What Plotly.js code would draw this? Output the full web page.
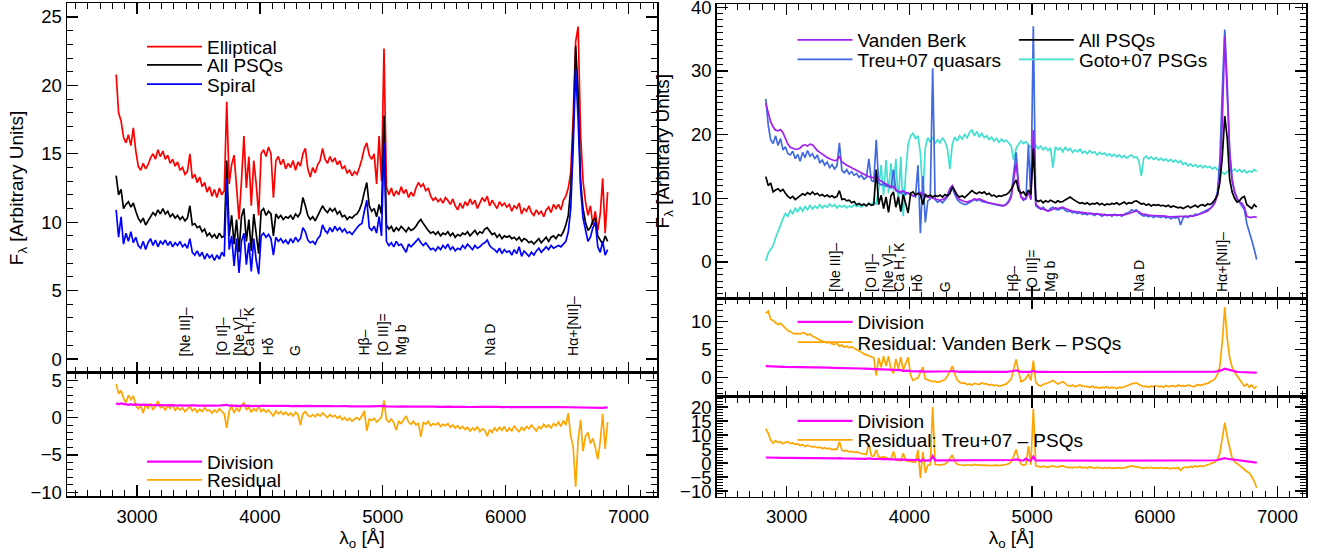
<!DOCTYPE html>
<html><head><meta charset="utf-8">
<script src="https://cdn.plot.ly/plotly-3.0.1.min.js"></script>
<style>html,body{margin:0;padding:0;background:#fff}#chart{width:1318px;height:552px}</style>
</head><body><div id="chart"></div>
<script>
// Wavelength grid (Å)
const wave = [
2830,2850,2870,2890,2910,2930,2950,2970,2990,3010,
3030,3050,3070,3090,3110,3130,3150,3170,3190,3210,
3230,3250,3270,3290,3310,3330,3350,3370,3390,3410,
3430,3450,3470,3490,3510,3530,3550,3570,3590,3610,
3630,3650,3670,3690,3710,3730,3750,3770,3790,3810,
3830,3850,3870,3890,3910,3930,3950,3970,3990,4010,
4030,4050,4070,4090,4110,4130,4150,4170,4190,4210,
4230,4250,4270,4290,4310,4330,4350,4370,4390,4410,
4430,4450,4470,4490,4510,4530,4550,4570,4590,4610,
4630,4650,4670,4690,4710,4730,4750,4770,4790,4810,
4830,4850,4870,4890,4910,4930,4950,4970,4990,5010,
5030,5050,5070,5090,5110,5130,5150,5170,5190,5210,
5230,5250,5270,5290,5310,5330,5350,5370,5390,5410,
5430,5450,5470,5490,5510,5530,5550,5570,5590,5610,
5630,5650,5670,5690,5710,5730,5750,5770,5790,5810,
5830,5850,5870,5890,5910,5930,5950,5970,5990,6010,
6030,6050,6070,6090,6110,6130,6150,6170,6190,6210,
6230,6250,6270,6290,6310,6330,6350,6370,6390,6410,
6430,6450,6470,6490,6510,6530,6550,6570,6590,6610,
6630,6650,6670,6690,6710,6730,6750,6770,6790,6810,6830];

const elliptical = [
20.8,18.0,17.4,16.2,15.8,16.4,15.6,16.9,15.2,14.1,
13.8,14.3,13.9,14.2,14.7,15.0,14.6,15.3,14.8,15.2,
14.6,14.9,14.3,14.6,14.1,14.4,13.8,14.0,13.5,13.7,
15.0,13.2,13.5,12.9,13.3,12.6,12.9,12.2,12.6,11.9,
12.4,11.8,12.5,12.0,12.3,18.8,12.8,14.2,14.9,12.2,
10.2,13.0,16.3,12.5,14.8,11.2,14.5,12.8,10.5,15.0,
15.3,14.8,15.5,15.0,11.8,14.5,14.8,14.2,14.6,13.9,
14.3,14.0,14.5,13.8,14.4,14.1,15.0,15.4,13.9,13.3,
14.0,13.6,14.2,14.5,15.4,14.6,14.3,14.8,14.4,14.7,
14.2,14.5,13.9,14.1,13.6,13.8,13.4,13.7,13.5,14.0,
14.6,15.4,15.8,14.9,14.6,15.0,12.8,16.3,13.0,22.7,
12.6,12.0,12.5,11.9,12.3,12.0,12.6,12.1,12.4,11.8,
12.2,11.9,12.5,12.9,12.6,12.8,12.3,12.5,11.9,11.6,
11.8,11.5,11.7,11.4,11.8,11.6,11.3,11.7,11.2,10.9,
11.4,11.0,11.5,11.2,11.7,11.3,11.6,11.0,11.4,11.8,
11.5,11.9,11.2,11.6,11.3,11.0,11.5,11.2,11.4,11.1,
11.3,10.8,11.2,11.0,11.4,10.6,11.0,10.8,11.2,10.7,
10.5,10.9,10.6,10.8,10.4,10.9,11.1,10.7,11.3,11.0,
11.3,10.9,11.6,11.9,12.5,13.6,17.8,23.2,24.3,16.5,
13.0,11.5,10.5,11.2,9.8,10.8,9.4,10.6,13.2,9.2,12.2];

const allPSQs = [
13.4,12.0,12.4,11.0,11.3,11.5,11.1,11.4,10.8,10.3,
10.0,10.3,9.8,10.1,10.4,10.7,10.5,10.9,10.6,11.0,
10.6,10.8,10.4,10.6,10.3,10.5,10.2,10.4,10.1,10.3,
11.2,9.8,9.9,9.6,9.7,9.3,9.5,9.0,9.2,8.9,
9.1,8.8,9.2,8.9,9.0,14.5,9.0,10.5,8.4,10.2,
7.8,10.4,11.0,8.6,10.2,7.9,10.6,8.9,7.7,10.8,
11.0,10.5,10.8,10.6,9.0,10.6,10.3,10.5,10.2,10.4,
10.3,10.5,10.2,10.6,10.4,10.7,11.8,11.2,10.5,10.2,
10.4,10.1,10.5,10.8,11.2,10.9,10.7,11.0,10.8,11.0,
10.6,10.8,10.4,10.5,10.2,10.4,10.3,10.5,10.6,10.9,
11.4,12.2,12.9,11.2,10.8,11.0,10.4,11.3,10.6,17.8,
9.8,9.5,9.7,9.3,9.6,9.4,9.7,9.5,9.3,9.6,
9.4,9.5,9.7,10.0,10.2,9.9,9.6,9.4,9.2,9.3,
9.1,9.3,9.0,9.2,9.1,9.3,9.0,9.2,8.9,9.1,
9.0,9.2,9.1,9.3,9.0,9.2,9.4,9.1,9.3,9.2,
9.5,9.6,9.3,9.1,9.2,8.9,9.1,8.8,9.0,8.9,
9.0,8.8,8.9,8.7,8.9,8.6,8.8,8.7,8.5,8.6,
8.4,8.6,8.8,8.5,8.7,8.9,8.6,8.9,9.0,8.8,
9.1,9.0,9.3,9.8,10.5,12.5,16.5,22.9,19.5,13.0,
11.0,10.0,9.4,9.6,10.1,10.3,9.0,8.7,8.4,9.0,8.6];

const spiral = [
10.9,8.9,10.4,8.4,9.2,8.6,9.3,8.5,8.9,8.3,
8.1,8.6,8.0,8.5,8.8,8.3,8.7,8.2,8.6,8.4,
8.7,8.3,8.6,8.2,8.5,8.3,8.6,8.2,8.4,8.1,
8.8,7.8,7.6,7.9,7.5,7.8,7.3,7.7,7.4,7.6,
7.2,7.6,7.3,7.8,7.5,13.2,8.0,9.0,6.8,8.8,
6.3,8.6,9.2,6.9,8.5,6.4,8.8,7.2,6.2,9.0,
9.2,8.9,9.1,8.8,7.6,8.9,8.6,8.8,8.5,8.7,
8.4,8.8,8.5,8.9,8.6,8.8,9.6,9.3,8.7,8.5,
8.6,8.4,8.8,9.0,9.8,9.4,9.2,9.6,9.3,9.7,
9.4,9.6,9.3,9.5,9.2,9.3,9.1,9.4,9.6,9.8,
9.9,10.8,11.6,9.6,9.4,9.7,9.2,10.4,9.0,15.8,
8.6,8.3,8.5,8.2,8.6,8.3,8.4,8.1,7.8,8.4,
8.2,8.4,8.6,8.8,8.5,8.3,8.5,8.2,8.0,8.1,
7.9,8.2,8.0,8.3,8.1,8.4,8.0,8.2,7.9,8.1,
8.0,8.3,8.1,8.4,8.2,8.0,8.3,8.1,8.2,8.4,
8.5,8.7,8.3,8.1,8.0,7.8,8.1,7.7,8.0,7.8,
7.9,7.6,8.0,7.7,8.2,7.5,7.9,7.7,7.5,7.8,
7.6,7.9,8.1,7.8,8.0,8.2,8.0,8.3,8.1,8.2,
8.3,8.2,8.4,8.6,9.3,11.0,15.5,21.2,17.5,12.5,
10.3,9.4,8.6,8.9,9.6,10.0,8.2,7.8,8.6,7.6,8.0];

const divisionGal = [
1.9,1.8,1.9,1.8,1.8,1.7,1.8,1.7,1.75,1.7,
1.7,1.72,1.66,1.7,1.68,1.65,1.7,1.64,1.68,1.63,
1.67,1.62,1.66,1.63,1.65,1.61,1.64,1.6,1.63,1.6,
1.64,1.59,1.62,1.6,1.63,1.58,1.61,1.59,1.62,1.58,
1.61,1.58,1.6,1.57,1.6,1.7,1.58,1.62,1.55,1.6,
1.52,1.6,1.62,1.55,1.6,1.54,1.59,1.56,1.52,1.6,
1.6,1.57,1.59,1.56,1.55,1.58,1.55,1.57,1.54,1.56,
1.55,1.53,1.56,1.54,1.55,1.53,1.56,1.54,1.52,1.55,
1.53,1.54,1.52,1.55,1.53,1.51,1.54,1.52,1.53,1.51,
1.53,1.51,1.52,1.5,1.52,1.5,1.51,1.49,1.51,1.5,
1.5,1.52,1.48,1.5,1.49,1.51,1.48,1.52,1.49,1.55,
1.49,1.47,1.49,1.46,1.48,1.47,1.49,1.46,1.48,1.47,
1.46,1.48,1.45,1.47,1.44,1.46,1.45,1.47,1.44,1.46,
1.45,1.43,1.45,1.44,1.46,1.43,1.45,1.42,1.44,1.43,
1.44,1.42,1.44,1.41,1.43,1.42,1.44,1.41,1.43,1.42,
1.43,1.41,1.42,1.4,1.42,1.41,1.43,1.4,1.42,1.41,
1.42,1.4,1.41,1.39,1.41,1.4,1.42,1.39,1.41,1.4,
1.39,1.41,1.38,1.4,1.39,1.41,1.38,1.4,1.39,1.41,
1.4,1.38,1.41,1.39,1.4,1.42,1.38,1.35,1.3,1.33,
1.3,1.28,1.3,1.26,1.29,1.25,1.22,1.28,1.3,1.33,1.35];

const residualGal = [
4.5,3.2,3.6,2.6,2.0,3.0,2.4,2.9,1.6,1.2,
1.5,0.6,1.8,1.2,1.9,1.0,1.6,2.2,1.3,1.5,
1.0,1.6,1.2,1.8,0.9,1.4,1.0,1.3,0.8,1.2,
1.5,0.9,1.2,0.7,1.1,0.8,1.3,0.9,1.0,0.6,
1.0,0.7,1.2,0.8,0.5,-1.4,0.9,1.5,0.6,1.3,
0.8,1.6,2.0,1.0,1.4,0.7,1.2,0.9,1.5,0.8,
1.1,0.7,1.0,0.6,0.2,0.9,0.5,0.8,0.4,0.7,
0.3,0.6,0.2,0.7,0.4,-1.0,0.5,0.8,0.3,0.1,
0.4,0.1,0.5,0.2,0.6,0.3,0.0,0.4,0.1,0.3,
-0.1,0.2,-0.3,0.0,-0.4,-0.1,-0.5,-0.2,0.0,-0.3,
0.2,0.9,-1.8,-0.2,-0.4,-0.1,-0.6,-0.3,0.1,2.3,
-0.3,-0.6,-0.2,-0.7,-1.7,-0.5,-0.8,-0.3,0.2,-0.6,
-0.9,-0.5,-1.0,-0.7,-2.6,-0.6,-0.9,-0.5,-1.1,-0.8,
-1.0,-0.7,-1.2,-0.9,-1.1,-0.8,-1.3,-1.0,-1.4,-1.1,
-1.5,-1.2,-1.6,-1.3,-1.8,-1.4,-1.7,-1.2,-1.9,-1.5,
-1.7,-2.5,-1.6,-2.0,-1.4,-1.8,-1.3,-1.7,-1.2,-1.9,
-1.4,-1.8,-1.1,-1.6,-1.9,-1.3,-1.7,-1.2,-1.5,-1.0,
-1.4,-1.8,-1.2,-1.5,-0.9,-1.3,-1.0,-1.4,-0.8,-1.1,
-0.6,-1.2,-0.4,-1.0,0.6,-2.5,-4.0,-9.3,-3.0,-0.3,
-4.5,-2.5,-2.0,-3.5,-2.8,-4.0,-5.6,-3.2,0.5,-4.2,-0.6];

const vandenBerk = [
24.9,23.3,22.0,21.2,20.7,20.6,20.8,20.3,19.3,18.5,
18.0,17.8,17.7,17.7,17.9,18.3,18.4,18.2,18.5,18.4,
17.9,17.5,17.2,16.9,16.7,16.4,16.2,16.0,15.9,16.0,
16.6,15.7,15.4,15.2,15.0,14.8,14.6,14.4,14.1,13.9,
13.7,13.5,13.4,13.3,13.2,13.5,12.9,12.7,12.5,12.2,
12.0,11.7,11.9,11.3,11.1,11.0,11.2,10.9,10.8,10.6,
10.4,10.5,10.7,10.9,10.6,10.3,10.2,10.1,10.0,9.9,
9.7,9.7,9.8,10.0,10.5,11.5,12.0,11.0,10.2,9.8,
9.6,9.5,9.4,9.5,9.7,9.9,9.8,9.9,9.7,9.5,
9.4,9.3,9.2,9.1,9.0,8.9,8.8,8.8,9.0,9.4,
10.2,13.0,15.5,12.0,10.2,9.7,10.0,10.9,9.8,20.7,
9.1,8.7,8.4,8.3,8.1,8.0,8.1,8.3,8.5,8.4,
8.5,8.6,8.4,8.2,8.1,8.0,7.9,7.9,7.8,7.8,
7.7,7.7,7.6,7.6,7.5,7.5,7.5,7.4,7.4,7.4,
7.4,7.3,7.3,7.3,7.3,7.4,7.4,7.5,7.6,7.8,
7.9,8.0,7.9,7.6,7.5,7.4,7.4,7.3,7.3,7.3,
7.3,7.2,7.2,7.2,7.1,7.1,7.1,7.1,7.1,7.1,
7.1,7.1,7.1,7.2,7.2,7.3,7.4,7.5,7.6,7.8,
8.0,8.3,8.7,9.3,10.5,13.5,22.0,35.4,26.0,17.5,
12.8,11.0,10.0,9.4,9.2,8.6,7.2,7.0,7.0,7.1,7.0];

const treuQuasars = [
25.6,21.5,19.2,18.6,19.8,18.3,19.4,17.6,18.1,17.0,
16.8,17.4,16.2,16.9,15.8,17.2,16.4,17.5,16.6,17.0,
16.2,16.8,15.6,16.0,15.2,15.7,14.8,15.3,14.6,15.1,
18.7,14.4,14.0,14.5,13.8,14.2,13.6,13.9,13.3,13.6,
13.0,13.3,16.2,12.8,12.6,19.2,12.4,12.1,12.3,11.9,
12.0,11.6,14.5,11.2,11.0,10.8,11.1,10.6,10.9,10.5,
10.4,10.2,15.2,4.5,13.5,6.2,9.6,9.9,30.4,9.8,
9.4,9.6,9.3,9.7,10.2,11.0,11.6,10.6,9.8,9.4,
9.2,9.0,9.1,9.3,9.6,9.8,9.6,9.8,9.5,9.4,
9.3,9.2,9.1,9.0,8.9,8.9,8.8,8.9,9.1,9.6,
10.5,14.0,17.2,12.0,10.2,10.0,9.9,18.4,9.8,37.0,
8.8,8.5,8.3,8.6,8.2,8.0,8.4,8.6,8.3,8.2,
8.4,8.5,8.1,7.9,8.0,7.7,7.8,7.6,7.8,7.5,
7.6,7.4,7.7,7.5,7.3,7.6,7.4,7.2,7.5,7.3,
7.4,7.2,7.5,7.3,7.4,7.2,7.5,7.6,7.8,8.2,
8.0,8.2,7.7,7.4,7.2,7.3,7.1,7.3,7.0,7.2,
7.1,7.0,7.2,6.9,7.1,6.8,7.0,6.9,7.1,5.8,
6.9,7.2,7.0,7.3,7.2,7.5,7.4,7.6,7.8,7.9,
8.1,8.4,8.8,9.6,11.0,16.0,27.0,36.5,28.0,17.0,
13.0,11.0,10.0,9.4,8.9,8.2,6.0,4.5,3.4,2.0,0.4];

const gotoPSGs = [
0.2,1.4,2.0,2.6,3.8,4.8,6.0,6.8,7.6,7.2,
8.1,7.6,8.4,7.9,8.6,8.0,8.7,8.2,8.9,8.3,
8.8,8.4,9.0,8.5,8.9,8.6,9.1,8.7,9.0,8.5,
8.9,8.6,8.9,8.5,8.8,8.6,9.0,8.7,8.9,8.6,
9.0,8.8,9.2,9.0,9.4,9.1,11.5,15.2,10.5,16.0,
10.8,15.5,11.2,16.2,9.0,16.5,7.2,14.0,18.5,19.8,
20.2,19.4,19.8,17.0,10.5,18.0,19.5,18.8,19.6,18.6,
19.2,18.7,19.5,18.9,17.8,14.6,18.5,19.6,19.0,19.8,
19.3,20.0,19.5,20.3,20.8,19.8,20.5,19.6,20.2,19.5,
19.8,19.2,19.6,19.0,19.4,18.8,19.3,18.9,19.1,18.7,
18.2,16.0,17.8,18.5,19.0,18.6,18.9,18.4,18.0,17.6,
18.3,17.8,18.2,17.6,18.0,17.5,17.9,14.8,18.1,17.6,
17.9,17.3,18.0,17.5,17.8,17.2,17.6,17.3,17.7,17.1,
17.4,17.0,17.5,17.1,17.3,16.8,17.2,16.9,17.1,16.7,
17.0,16.6,16.9,16.5,16.8,16.4,16.7,16.3,16.6,16.8,
16.4,16.5,15.9,13.5,16.3,16.6,16.2,16.5,16.1,16.4,
16.0,16.3,15.9,16.2,15.8,16.1,15.7,16.0,15.6,15.9,
15.3,15.6,15.1,15.4,15.0,15.3,14.9,15.2,14.8,15.1,
14.8,15.0,14.6,14.9,14.5,14.3,14.0,13.8,14.2,14.5,
14.3,14.6,14.2,14.5,14.1,14.4,14.0,14.3,14.1,14.5,14.2];

const divisionVB = [
2.0,2.0,1.95,1.95,1.9,1.9,1.9,1.88,1.85,1.85,
1.85,1.83,1.82,1.82,1.8,1.8,1.79,1.78,1.78,1.77,
1.76,1.76,1.75,1.74,1.73,1.72,1.72,1.7,1.7,1.69,
1.7,1.67,1.66,1.65,1.64,1.63,1.62,1.6,1.59,1.57,
1.56,1.54,1.53,1.51,1.5,1.5,1.46,1.4,1.45,1.36,
1.4,1.3,1.25,1.32,1.2,1.28,1.15,1.18,1.2,1.08,
1.05,1.05,1.06,1.1,1.12,1.02,1.0,1.0,0.99,0.99,
0.98,0.98,0.98,0.99,1.02,1.08,1.12,1.05,1.0,0.97,
1.02,1.01,1.0,1.0,1.0,1.01,1.0,1.0,0.99,0.99,
0.99,0.98,0.98,0.98,0.97,0.97,0.97,0.97,0.98,0.99,
1.0,1.12,1.25,1.05,0.98,0.97,0.98,1.0,0.97,1.15,
0.97,0.97,0.96,0.96,0.96,0.96,0.96,0.96,0.96,0.96,
0.96,0.96,0.95,0.95,0.95,0.95,0.94,0.94,0.94,0.94,
0.94,0.94,0.93,0.93,0.93,0.93,0.93,0.93,0.92,0.92,
0.92,0.92,0.92,0.92,0.92,0.92,0.92,0.93,0.93,0.94,
0.95,0.95,0.94,0.93,0.92,0.92,0.92,0.92,0.91,0.91,
0.91,0.91,0.91,0.91,0.9,0.9,0.9,0.9,0.9,0.9,
0.9,0.9,0.9,0.9,0.91,0.91,0.92,0.92,0.93,0.93,
0.94,0.95,0.97,1.0,1.05,1.15,1.32,1.55,1.42,1.25,
1.12,1.04,0.98,0.94,0.9,0.87,0.84,0.82,0.83,0.82,0.83];

const residualVB = [
11.5,11.9,10.4,10.2,9.8,9.5,9.7,9.3,8.9,8.4,
8.2,7.9,7.8,7.9,7.8,8.0,7.9,7.6,7.8,7.4,
7.2,6.9,6.7,6.5,6.4,6.2,6.3,6.0,5.9,6.1,
5.6,5.8,5.4,5.6,5.3,5.5,5.2,5.0,4.7,4.5,
4.2,4.0,3.8,3.7,3.5,0.3,3.5,1.8,3.8,2.0,
3.8,1.4,0.7,3.3,1.5,3.6,1.3,2.5,3.6,0.4,
-0.6,-0.3,-0.1,0.9,1.8,-0.3,-0.5,-0.6,-0.8,-0.7,
-0.9,-0.8,-0.6,-0.4,0.2,1.2,2.0,0.6,-0.5,-0.9,
-1.1,-1.0,-1.3,-1.2,-1.4,-1.1,-1.2,-1.3,-1.0,-1.2,
-1.2,-1.4,-1.3,-1.5,-1.4,-1.6,-1.5,-1.3,-1.2,-0.8,
-0.3,1.5,3.2,1.0,-0.8,-0.6,-0.2,0.6,-0.6,3.0,
-0.9,-1.4,-1.6,-1.3,-1.2,-1.0,-0.8,-0.6,-0.9,-1.2,
-1.0,-0.8,-1.1,-1.5,-1.6,-1.4,-1.7,-1.5,-1.4,-1.6,
-1.6,-1.7,-1.8,-1.6,-1.9,-1.8,-2.0,-1.8,-1.9,-1.7,
-2.0,-1.8,-1.9,-2.0,-1.8,-1.9,-1.7,-1.6,-1.4,-1.2,
-1.1,-1.0,-1.3,-1.5,-1.7,-1.6,-1.8,-1.6,-1.7,-1.5,
-1.7,-1.6,-1.8,-1.5,-1.7,-1.6,-1.5,-1.7,-1.4,-1.6,
-1.5,-1.6,-1.4,-1.5,-1.7,-1.6,-1.3,-1.5,-1.3,-1.2,
-1.1,-0.9,-0.6,-0.3,0.5,2.0,6.5,12.6,7.0,3.5,
1.8,0.9,0.2,-0.5,-1.0,-1.6,-1.2,-1.8,-1.4,-2.0,-1.6];

const divisionTreu = [
2.0,1.95,1.9,1.88,1.92,1.87,1.9,1.85,1.87,1.84,
1.83,1.85,1.8,1.82,1.78,1.81,1.77,1.8,1.76,1.78,
1.75,1.77,1.73,1.74,1.71,1.72,1.69,1.71,1.67,1.69,
1.8,1.65,1.63,1.64,1.6,1.62,1.58,1.59,1.56,1.56,
1.53,1.52,1.7,1.48,1.46,1.55,1.42,1.4,1.42,1.38,
1.35,1.32,1.4,1.28,1.25,1.22,1.3,1.18,1.16,1.12,
1.1,1.08,1.3,0.7,1.25,0.8,1.0,1.0,2.5,1.0,
0.98,0.98,0.98,0.99,1.0,1.05,1.1,1.03,0.98,0.97,
0.96,0.95,0.96,0.95,0.95,0.96,0.95,0.95,0.94,0.94,
0.94,0.93,0.93,0.93,0.93,0.92,0.92,0.92,0.93,0.95,
0.98,1.1,1.3,1.05,0.95,0.93,1.6,0.96,0.93,2.3,
0.92,0.92,0.91,0.92,0.91,0.9,0.91,0.92,0.91,0.9,
0.91,0.91,0.9,0.9,0.9,0.89,0.89,0.89,0.89,0.88,
0.88,0.88,0.88,0.88,0.87,0.88,0.87,0.87,0.87,0.87,
0.87,0.87,0.87,0.87,0.87,0.87,0.87,0.88,0.89,0.9,
0.9,0.9,0.89,0.88,0.87,0.87,0.86,0.86,0.86,0.86,
0.86,0.86,0.86,0.86,0.86,0.85,0.86,0.85,0.86,0.8,
0.86,0.87,0.87,0.88,0.88,0.89,0.9,0.9,0.91,0.92,
0.93,0.95,0.98,1.02,1.1,1.25,1.5,1.75,1.55,1.45,
1.3,1.2,1.12,1.05,0.98,0.9,0.75,0.6,0.45,0.3,0.15];

const residualTreu = [
12.3,10.6,8.2,7.1,8.0,7.3,7.6,6.9,7.4,7.6,
7.0,7.2,6.6,6.9,6.3,6.6,5.9,6.4,6.0,5.8,
5.9,5.5,5.7,5.2,5.5,5.1,5.3,4.8,5.0,4.9,
7.6,4.6,4.3,4.5,4.0,4.2,3.8,4.0,3.6,3.5,
3.3,3.1,7.0,2.6,2.4,4.7,2.2,2.0,2.3,1.8,
1.6,1.4,4.1,1.2,1.0,0.8,3.5,0.9,0.7,0.6,
0.5,0.3,4.7,-5.3,4.0,-3.5,-0.8,-0.6,20.0,-0.5,
-0.6,-0.7,-0.5,-0.4,0.4,1.8,2.9,0.6,-0.4,-0.6,
-0.7,-0.8,-0.6,-0.7,-0.8,-0.5,-0.7,-0.6,-0.8,-0.7,
-0.8,-0.7,-0.9,-0.8,-0.7,-0.9,-0.8,-0.7,-0.5,-0.2,
0.5,2.5,4.9,1.2,-0.4,-0.8,-0.5,6.1,-0.6,19.4,
-1.0,-1.2,-1.4,-1.1,-1.3,-1.5,-1.2,-1.0,-1.3,-1.4,
-1.1,-1.0,-1.3,-1.6,-1.5,-1.7,-1.4,-1.6,-1.3,-1.7,
-1.5,-1.8,-1.4,-1.6,-1.8,-1.5,-1.7,-1.9,-1.6,-1.8,
-1.6,-1.9,-1.7,-1.8,-1.6,-1.9,-1.7,-1.4,-1.3,-1.0,
-1.2,-1.4,-1.6,-1.7,-1.9,-1.6,-1.8,-1.5,-1.9,-1.7,
-1.8,-1.6,-1.9,-1.7,-1.8,-2.0,-1.7,-1.9,-1.6,-2.6,
-1.7,-1.4,-1.6,-1.2,-1.5,-1.0,-1.3,-0.9,-1.2,-0.8,
-0.6,-0.3,0.0,0.4,1.2,3.5,9.0,14.4,9.4,5.5,
1.8,0.5,0.0,-0.8,-1.5,-2.4,-3.0,-3.6,-4.8,-6.5,-8.8];

// Spectral line labels
const lineNames = ['[Ne III]–','[O II]–','[Ne V]–','Ca H, K','Hδ','G','Hβ–','[O III]=','Mg b','Na D','Hα+[NII]–'];
const lineWaves = [3398, 3688, 3833, 3914, 4063, 4290, 4844, 4999, 5149, 5870, 6548];

// ---------------- layout helpers ----------------
const FONT = 'Liberation Sans, Arial, Helvetica, sans-serif';
const W = 1318, H = 552;
const fx = p => p / W;          // pixel -> paper x
const fy = p => 1 - p / H;      // pixel -> paper y
const XR = [2430, 7232];

function xAxis(l, r, anchor, labels) {
  const a = {
    domain: [fx(l), fx(r)], anchor: anchor, range: XR, dtick: 1000, tick0: 0,
    showline: true, linecolor: '#000', linewidth: 1.5, mirror: 'ticks',
    ticks: 'inside', ticklen: 11, tickwidth: 1.3, tickcolor: '#000',
    showgrid: false, zeroline: false, showticklabels: labels,
    ticklabeloverflow: 'allow',
    tickfont: {family: FONT, size: 18.5, color: '#000'},
    minor: {dtick: 100, ticks: 'inside', ticklen: 6, tickwidth: 1, tickcolor: '#000', showgrid: false},
    fixedrange: true
  };
  if (labels) {
    a.ticklabelstandoff = 3;
    a.title = {text: 'λ<sub>o</sub> [Å]', font: {family: FONT, size: 19, color: '#000'}, standoff: 4};
  }
  return a;
}
function yAxis(t, b, anchor, range, dtick, titleStandoff) {
  const a = {
    domain: [fy(b), fy(t)], anchor: anchor, range: range, dtick: dtick, tick0: 0,
    showline: true, linecolor: '#000', linewidth: 1.5, mirror: 'ticks',
    ticks: 'inside', ticklen: 11, tickwidth: 1.3, tickcolor: '#000',
    showgrid: false, zeroline: false, ticklabeloverflow: 'allow',
    tickfont: {family: FONT, size: 18.5, color: '#000'},
    minor: {dtick: 1, ticks: 'inside', ticklen: 6, tickwidth: 1, tickcolor: '#000', showgrid: false},
    fixedrange: true
  };
  if (titleStandoff != null) a.title = {text: 'F<sub>λ</sub> [Arbitrary Units]', font: {family: FONT, size: 19, color: '#000'}, standoff: titleStandoff};
  return a;
}

const LX = 67, RX = 657, RLX = 716.7, RRX = 1306;

const layout = {
  width: W, height: H, margin: {l: 0, r: 0, t: 0, b: 0},
  paper_bgcolor: '#fff', plot_bgcolor: '#fff',
  font: {family: FONT, size: 18, color: '#000'},
  xaxis:  xAxis(LX, RX, 'y', false),
  yaxis:  yAxis(3.3, 372.7, 'x', [-1, 26], 5, 12),
  xaxis2: xAxis(LX, RX, 'y2', true),
  yaxis2: yAxis(372.7, 496, 'x2', [-10.5, 6], 5, null),
  xaxis3: xAxis(RLX, RRX, 'y3', false),
  yaxis3: yAxis(4, 298.3, 'x3', [-5.7, 40.5], 10, 16),
  xaxis4: xAxis(RLX, RRX, 'y4', false),
  yaxis4: yAxis(298.3, 396.7, 'x4', [-3.5, 14.2], 5, null),
  xaxis5: xAxis(RLX, RRX, 'y5', true),
  yaxis5: yAxis(396.7, 496.7, 'x5', [-12, 23.7], 5, null),
  showlegend: true,
  annotations: []
};

// one legend per entry so each sample sits where the original has it
const legendSpots = [
  ['legend',   142, 46.7], ['legend2',  142, 65.0], ['legend3',  142, 84.3],
  ['legend4',  142, 461.7], ['legend5', 142, 480.0],
  ['legend6',  792.5, 40.0], ['legend7', 792.5, 59.5],
  ['legend8',  1013.9, 40.0], ['legend9', 1013.9, 59.5],
  ['legend10', 792.5, 322.0], ['legend11', 792.5, 342.3],
  ['legend12', 792.5, 421.0], ['legend13', 792.5, 440.0]
];
legendSpots.forEach(([id, x, y]) => {
  layout[id] = {x: fx(x), y: fy(y), xanchor: 'left', yanchor: 'middle',
    bgcolor: 'rgba(0,0,0,0)', borderwidth: 0, itemwidth: 55,
    font: {family: FONT, size: 19, color: '#000'}, itemclick: false, itemdoubleclick: false};
});

function tr(y, name, color, xa, ya, leg, w) {
  return {x: wave, y: y, name: name, type: 'scatter', mode: 'lines',
    line: {color: color, width: w || 1.7}, xaxis: xa, yaxis: ya, legend: leg, hoverinfo: 'skip'};
}

const RED = '#ff0000', BLACK = '#000000', BLUE = '#0000ff', MAG = '#ff00ff', ORANGE = '#ffa500',
      PURPLE = '#a020f0', ROYAL = '#4169e1', TURQ = '#40e0d0';

const data = [
  tr(elliptical, 'Elliptical', RED, 'x', 'y', 'legend'),
  tr(allPSQs, 'All PSQs', BLACK, 'x', 'y', 'legend2'),
  tr(spiral, 'Spiral', BLUE, 'x', 'y', 'legend3'),
  tr(residualGal, 'Residual', ORANGE, 'x2', 'y2', 'legend5'),
  tr(divisionGal, 'Division', MAG, 'x2', 'y2', 'legend4', 2.2),
  tr(gotoPSGs, 'Goto+07 PSGs', TURQ, 'x3', 'y3', 'legend9'),
  tr(treuQuasars, 'Treu+07 quasars', ROYAL, 'x3', 'y3', 'legend7'),
  tr(vandenBerk, 'Vanden Berk', PURPLE, 'x3', 'y3', 'legend6'),
  tr(allPSQs, 'All PSQs', BLACK, 'x3', 'y3', 'legend8'),
  tr(residualVB, 'Residual: Vanden Berk – PSQs', ORANGE, 'x4', 'y4', 'legend11'),
  tr(divisionVB, 'Division', MAG, 'x4', 'y4', 'legend10', 2.2),
  tr(residualTreu, 'Residual: Treu+07 – PSQs', ORANGE, 'x5', 'y5', 'legend13'),
  tr(divisionTreu, 'Division', MAG, 'x5', 'y5', 'legend12', 2.2)
];

// spectral line labels in both upper panels
[['x', 'y', 0.15], ['x3', 'y3', -4.85]].forEach(([xr, yr, yb]) => {
  lineNames.forEach((t, i) => {
    layout.annotations.push({x: lineWaves[i], y: yb, xref: xr, yref: yr, text: t,
      textangle: -90, showarrow: false, xanchor: 'center', yanchor: 'bottom',
      font: {family: FONT, size: 14, color: '#000'}, borderpad: 0});
  });
});

Plotly.newPlot('chart', data, layout, {staticPlot: true, displayModeBar: false});
</script>
</body></html>
